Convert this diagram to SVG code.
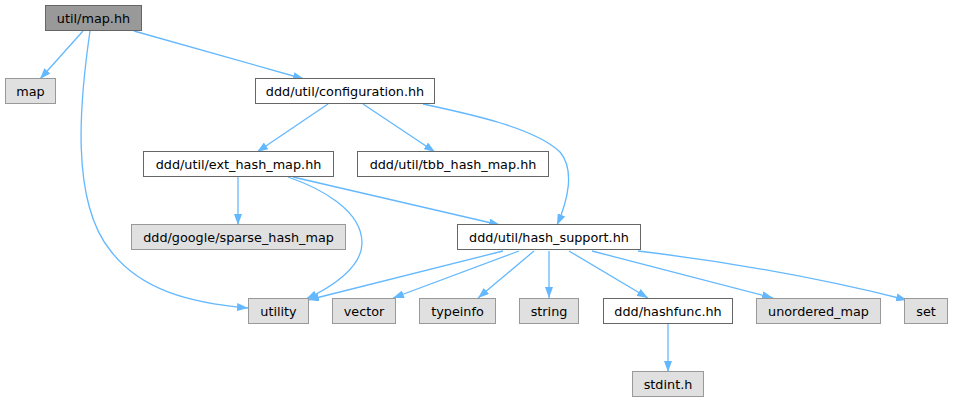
<svg xmlns="http://www.w3.org/2000/svg" width="953" height="403" viewBox="0 0 953 403">
<style>
  .n rect { stroke-width: 1; }
  .cur rect { fill: #999999; stroke: #666666; }
  .ext rect { fill: #e0e0e0; stroke: #999999; }
  .loc rect { fill: #ffffff; stroke: #666666; }
  .n text { font-family: "DejaVu Sans", sans-serif; font-size: 12.8px; fill: #000000; text-anchor: middle; }
  .e path { fill: none; stroke: #63b8ff; stroke-width: 1.3; }
</style>
<defs>
  <marker id="ah" viewBox="0 0 11 8" refX="11" refY="4" markerWidth="11" markerHeight="8" markerUnits="userSpaceOnUse" orient="auto">
    <path d="M0,0 L11,4 L0,8 z" fill="#63b8ff"/>
  </marker>
</defs>
<rect width="953" height="403" fill="#ffffff"/>
<g id="edges" class="e">
  <path marker-end="url(#ah)" d="M83,31 L40,79"/>
  <path marker-end="url(#ah)" d="M134,31 L304,79"/>
  <path marker-end="url(#ah)" d="M90,31 C80,100 70,200 110,250 C140,290 190,303 248,308"/>
  <path marker-end="url(#ah)" d="M328,104 L257,152"/>
  <path marker-end="url(#ah)" d="M363,104 L435,152"/>
  <path marker-end="url(#ah)" d="M423,104 C470,114 535,128 560,152 C575,170 568,200 557,225"/>
  <path marker-end="url(#ah)" d="M238,177 L238,225"/>
  <path marker-end="url(#ah)" d="M288,177 C320,188 362,210 362,243 C362,268 330,288 306,299"/>
  <path marker-end="url(#ah)" d="M293,177 L500,225"/>
  <path marker-end="url(#ah)" d="M503,251 L308,300"/>
  <path marker-end="url(#ah)" d="M519,251 L393,298"/>
  <path marker-end="url(#ah)" d="M534,251 L478,298"/>
  <path marker-end="url(#ah)" d="M549,251 L549,298"/>
  <path marker-end="url(#ah)" d="M569,251 L648,298"/>
  <path marker-end="url(#ah)" d="M592,251 L773,298"/>
  <path marker-end="url(#ah)" d="M638,251 Q780,268 907,300"/>
  <path marker-end="url(#ah)" d="M668,324 L668,372"/>
</g>
<g id="node-util-map-hh" class="n cur"><rect x="45.5" y="5.5" width="96" height="25"/><text x="93.5" y="22.5">util/map.hh</text></g>
<g id="node-map" class="n ext"><rect x="5.5" y="78.5" width="50" height="25"/><text x="30.5" y="95.5">map</text></g>
<g id="node-configuration" class="n loc"><rect x="255.5" y="78.5" width="179" height="25"/><text x="345" y="95.5">ddd/util/configuration.hh</text></g>
<g id="node-ext-hash-map" class="n loc"><rect x="143.5" y="151.5" width="190" height="25"/><text x="238.5" y="168.5">ddd/util/ext_hash_map.hh</text></g>
<g id="node-tbb-hash-map" class="n loc"><rect x="357.5" y="151.5" width="191" height="25"/><text x="453" y="168.5">ddd/util/tbb_hash_map.hh</text></g>
<g id="node-sparse-hash-map" class="n ext"><rect x="131.5" y="224.5" width="214" height="25"/><text x="238.5" y="241.5">ddd/google/sparse_hash_map</text></g>
<g id="node-hash-support" class="n loc"><rect x="457.5" y="224.5" width="183" height="25"/><text x="549" y="241.5">ddd/util/hash_support.hh</text></g>
<g id="node-utility" class="n ext"><rect x="248.5" y="298.5" width="60" height="25"/><text x="278.5" y="315.5">utility</text></g>
<g id="node-vector" class="n ext"><rect x="332.5" y="298.5" width="63" height="25"/><text x="364" y="315.5">vector</text></g>
<g id="node-typeinfo" class="n ext"><rect x="419.5" y="298.5" width="76" height="25"/><text x="457.5" y="315.5">typeinfo</text></g>
<g id="node-string" class="n ext"><rect x="519.5" y="298.5" width="59" height="25"/><text x="549" y="315.5">string</text></g>
<g id="node-hashfunc" class="n loc"><rect x="603.5" y="298.5" width="129" height="25"/><text x="668" y="315.5">ddd/hashfunc.hh</text></g>
<g id="node-unordered-map" class="n ext"><rect x="756.5" y="298.5" width="124" height="25"/><text x="818.5" y="315.5">unordered_map</text></g>
<g id="node-set" class="n ext"><rect x="904.5" y="298.5" width="43" height="25"/><text x="926" y="315.5">set</text></g>
<g id="node-stdint" class="n ext"><rect x="632.5" y="371.5" width="71" height="25"/><text x="668" y="388.5">stdint.h</text></g>
</svg>
